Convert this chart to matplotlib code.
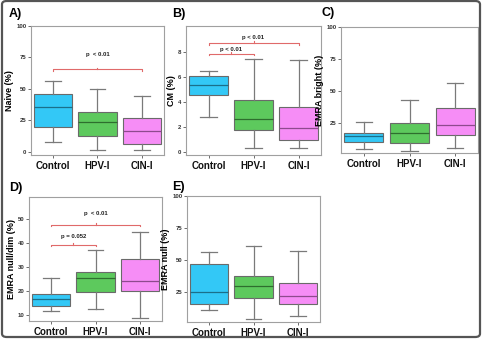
import matplotlib
matplotlib.use("Agg")
import matplotlib.pyplot as plt
from matplotlib.patches import FancyBboxPatch

plt.rcParams['font.family'] = ['Liberation Sans', 'DejaVu Sans']

groups = ["Control", "HPV-I", "CIN-I"]
face_colors = ["#33C8F6", "#5DC95D", "#F68DF6"]
median_colors = ["#1B6F8A", "#2E6E2E", "#8E4A8E"]

# (whislo, q1, med, q3, whishi) per group
naive = [[8.2, 19.4, 35.3, 45.6, 56.5], [1.3, 12.5, 24.1, 31.8, 50.1], [1.3, 6.1, 16.2, 27.0, 44.3]]
cm = [[2.86, 4.61, 5.40, 6.09, 6.54], [0.34, 1.83, 2.65, 4.16, 7.47], [0.34, 1.03, 1.99, 3.63, 7.39]]
emra_bright = [[5.5, 10.9, 15.1, 17.7, 26.3], [3.6, 9.9, 17.2, 25.5, 43.2], [5.7, 16.1, 24.0, 36.7, 56.3]]
emra_nulldim = [[11.7, 13.9, 16.8, 18.6, 25.3], [12.5, 19.5, 25.3, 27.8, 37.0], [8.9, 20.0, 24.4, 33.4, 44.6]]
emra_null = [[11.2, 15.7, 25.0, 46.8, 56.2], [4.0, 20.3, 29.7, 37.5, 60.8], [6.8, 15.7, 22.1, 32.6, 56.9]]

panels = [
    dict(label="A)", data=naive, ylabel="Naive (%)", ylim=(-2.5, 100), yticks=[0, 25, 50, 75, 100],
         rect=(31, 26, 164, 155), lab=(9, 14),
         sig=[(1, 3, 65.5, 77.5, "p  < 0.01")]),
    dict(label="B)", data=cm, ylabel="CM (%)", ylim=(-0.2, 10.1), yticks=[0, 2, 4, 6, 8],
         rect=(186, 26, 321, 155), lab=(172, 14),
         sig=[(1, 3, 8.74, 9.2, "p < 0.01"), (1, 2, 7.87, 8.25, "p < 0.01")]),
    dict(label="C)", data=emra_bright, ylabel="EMRA bright (%)", ylim=(2, 100), yticks=[25, 50, 75, 100],
         rect=(341, 27, 478, 153), lab=(322, 13), sig=[]),
    dict(label="D)", data=emra_nulldim, ylabel="EMRA null/dim (%)", ylim=(7.5, 59.3), yticks=[10, 20, 30, 40, 50],
         rect=(29, 197, 162, 321), lab=(9, 188),
         sig=[(1, 3, 47.8, 52.6, "p  < 0.01"), (1, 2, 39.3, 42.9, "p = 0.052")]),
    dict(label="E)", data=emra_null, ylabel="EMRA null (%)", ylim=(2, 100), yticks=[25, 50, 75, 100],
         rect=(187, 196, 320, 322), lab=(172, 187), sig=[]),
]

W, H = 482, 339
fig = plt.figure(figsize=(W / 100, H / 100), dpi=100)

border = FancyBboxPatch((2 / W, 2 / H), 1 - 4 / W, 1 - 3 / H,
                        boxstyle="round,pad=0,rounding_size=0.01",
                        transform=fig.transFigure, fill=False,
                        edgecolor="#555555", linewidth=1.6)
fig.patches.append(border)

for p in panels:
    l, t, r, b = p["rect"]
    ax = fig.add_axes([l / W, 1 - b / H, (r - l) / W, (b - t) / H])
    stats = []
    for g, v in zip(groups, p["data"]):
        stats.append(dict(label=g, whislo=v[0], q1=v[1], med=v[2], q3=v[3], whishi=v[4], fliers=[]))
    bp = ax.bxp(stats, positions=[1, 2, 3], widths=0.86, patch_artist=True,
                showfliers=False, capwidths=0.36,
                whiskerprops=dict(color="#7a7a7a", linewidth=0.9),
                capprops=dict(color="#7a7a7a", linewidth=0.9),
                boxprops=dict(linewidth=0.8),
                medianprops=dict(linewidth=0.9))
    for box, fc in zip(bp["boxes"], face_colors):
        box.set_facecolor(fc)
        box.set_edgecolor("#6a6a6a")
    for med, mc in zip(bp["medians"], median_colors):
        med.set_color(mc)
    ax.set_xlim(0.5, 3.5)
    ax.set_ylim(*p["ylim"])
    ax.set_yticks(p["yticks"])
    ax.set_yticklabels([str(v) for v in p["yticks"]], fontsize=4.3, fontweight="bold", color="#333333")
    ax.set_xticks([1, 2, 3])
    ax.set_xticklabels(groups, fontsize=7, fontweight="bold", color="#111111")
    ax.tick_params(axis="both", length=2, width=0.6, color="#555555", pad=1.2)
    ax.tick_params(axis="x", pad=2)
    for s in ax.spines.values():
        s.set_color("#a0a0a0")
        s.set_linewidth(0.8)
    ax.set_ylabel(p["ylabel"], fontsize=6.5, fontweight="bold", labelpad=1.5)
    yr = p["ylim"][1] - p["ylim"][0]
    for x0, x1, yb, yt, txt in p["sig"]:
        tk = yr * 0.012
        ax.plot([x0, x0, x1, x1], [yb - tk, yb, yb, yb - tk], color="#e06a6a", linewidth=0.8)
        xm = (x0 + x1) / 2
        ax.plot([xm, xm], [yb, yb + tk * 1.2], color="#e06a6a", linewidth=0.8)
        ax.text(xm, yt, txt, ha="center", va="center", fontsize=4.3, fontweight="bold", color="#222222")
    fig.text(p["lab"][0] / W, 1 - p["lab"][1] / H, p["label"], fontsize=9, fontweight="bold",
             ha="left", va="center")

fig.savefig("out.png", dpi=100)
